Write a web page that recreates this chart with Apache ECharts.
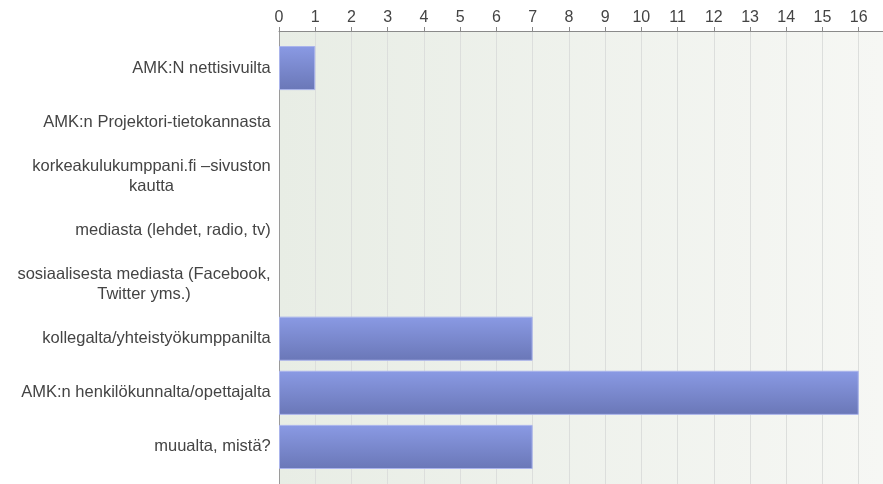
<!DOCTYPE html>
<html>
<head>
<meta charset="utf-8">
<script src="https://cdn.jsdelivr.net/npm/echarts@6/dist/echarts.min.js"></script>
<style>
  html, body { margin: 0; padding: 0; background: #fff; }
  #main { width: 883px; height: 484px; }
</style>
</head>
<body>
<div id="main"></div>
<script>
const categories = [
  "AMK:N nettisivuilta",
  "AMK:n Projektori-tietokannasta",
  "korkeakulukumppani.fi –sivuston\nkautta",
  "mediasta (lehdet, radio, tv)",
  "sosiaalisesta mediasta (Facebook,\nTwitter yms.)",
  "kollegalta/yhteistyökumppanilta",
  "AMK:n henkilökunnalta/opettajalta",
  "muualta, mistä?"
];
const values = [1, 0, 0, 0, 0, 7, 16, 7];

const FONT = "Liberation Sans, Arial, sans-serif";
const FONT_SIZE = 16.5;
const X_MAX = 16.67;

var myChart = echarts.init(document.getElementById("main"));

// tekstin leveys mittaukseen
var ctx = document.createElement("canvas").getContext("2d");
ctx.font = FONT_SIZE + "px " + FONT;

// monirivinen nimi keskitetään riveittäin: jokaiselle nimelle oma rich-tyyli
var rich = {};
categories.forEach(function (name, i) {
  var w = 0;
  name.split("\n").forEach(function (s) {
    w = Math.max(w, Math.ceil(ctx.measureText(s).width));
  });
  rich["c" + i] = {
    width: w,
    align: "center",
    color: "#444",
    fontFamily: FONT,
    fontSize: FONT_SIZE,
    lineHeight: 20
  };
});

function labelText(value, index) {
  return value.split("\n").map(function (s) { return "{c" + index + "|" + s + "}"; }).join("\n");
}

// nollapalkeille ei reunaviivaa
var barData = values.map(function (v) {
  return v === 0 ? { value: v, itemStyle: { borderWidth: 0 } } : v;
});

var option = {
  animation: false,
  grid: [
    {
      // tausta + asteikko koko alueelle
      left: 279,
      right: 0,
      top: 31,
      bottom: 0,
      show: true,
      borderWidth: 0,
      backgroundColor: new echarts.graphic.LinearGradient(0, 0, 1, 0, [
        { offset: 0, color: "#e8ede5" },
        { offset: 1, color: "#f6f7f4" }
      ])
    },
    {
      // palkit, pieni marginaali ylä- ja alareunassa
      left: 279,
      right: 0,
      top: 41,
      bottom: 10
    }
  ],
  xAxis: [
    {
      gridIndex: 0,
      type: "value",
      position: "top",
      min: 0,
      max: X_MAX,
      interval: 1,
      axisLine: { show: true, onZero: false, lineStyle: { color: "#8a8a8a", width: 1 } },
      axisTick: { show: true, length: 4, lineStyle: { color: "#8a8a8a" } },
      axisLabel: {
        showMaxLabel: false,
        color: "#444",
        fontFamily: FONT,
        fontSize: 16,
        margin: 5
      },
      splitLine: { show: true, lineStyle: { color: "#dcdedc", width: 1 } }
    },
    {
      gridIndex: 1,
      type: "value",
      min: 0,
      max: X_MAX,
      show: false
    }
  ],
  yAxis: [
    {
      gridIndex: 0,
      type: "value",
      axisLine: { show: true, onZero: false, lineStyle: { color: "#9a9a9a", width: 1 } },
      axisTick: { show: false },
      axisLabel: { show: false },
      splitLine: { show: false }
    },
    {
      gridIndex: 1,
      type: "category",
      inverse: true,
      data: categories,
      axisLine: { show: false },
      axisTick: { show: false },
      axisLabel: {
        color: "#444",
        fontFamily: FONT,
        fontSize: FONT_SIZE,
        margin: 8,
        lineHeight: 20,
        formatter: labelText,
        rich: rich
      }
    }
  ],
  series: [
    {
      type: "bar",
      xAxisIndex: 1,
      yAxisIndex: 1,
      data: barData,
      barCategoryGap: "18.5%",
      itemStyle: {
        color: new echarts.graphic.LinearGradient(0, 0, 0, 1, [
          { offset: 0, color: "#8a9ae4" },
          { offset: 1, color: "#6a77b7" }
        ]),
        borderColor: "#aab4ec",
        borderWidth: 1
      }
    }
  ]
};

myChart.setOption(option);
</script>
</body>
</html>
